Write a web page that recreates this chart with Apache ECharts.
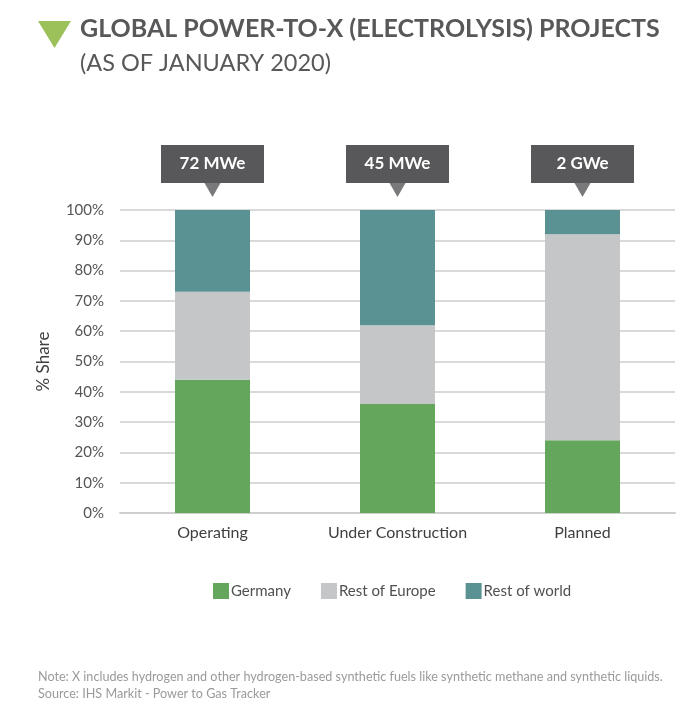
<!DOCTYPE html>
<html>
<head>
<meta charset="utf-8">
<script src="https://cdn.jsdelivr.net/npm/echarts@6/dist/echarts.min.js"></script>
<style>
html,body{margin:0;padding:0;background:#fff;}
#main{width:692px;height:714px;}
</style>
</head>
<body>
<div id="main"></div>
<script>
var categories = ['Operating', 'Under Construction', 'Planned'];
var capacity = ['72 MWe', '45 MWe', '2 GWe'];
var germany = [44, 36, 24];
var restOfEurope = [29, 26, 68];
var restOfWorld = [27, 38, 8];
var yTicks = [0, 10, 20, 30, 40, 50, 60, 70, 80, 90, 100];

var FONT = 'Lato';
var chart = echarts.init(document.getElementById('main'), null, {renderer: 'canvas'});

var option = {
  backgroundColor: '#ffffff',
  animation: false,
  textStyle: {fontFamily: FONT},
  graphic: [
    {type: 'polygon', shape: {points: [[38, 21], [71, 21], [54.5, 48]]}, style: {fill: '#9dc15a'}},
    {type: 'text', left: 80, top: 16, style: {text: 'GLOBAL POWER-TO-X (ELECTROLYSIS) PROJECTS', font: 'bold 25px ' + FONT, fill: '#58585a'}},
    {type: 'text', left: 80, top: 51, style: {text: '(AS OF JANUARY 2020)', font: '23.5px ' + FONT, fill: '#58585a'}},
    {type: 'text', left: 38, top: 670, style: {text: 'Note: X includes hydrogen and other hydrogen-based synthetic fuels like synthetic methane and synthetic liquids.', font: '12.6px ' + FONT, fill: '#9a9a9a'}},
    {type: 'text', left: 38, top: 687, style: {text: 'Source: IHS Markit - Power to Gas Tracker', font: '12.6px ' + FONT, fill: '#9a9a9a'}}
  ],
  legend: {
    left: 208,
    top: 578,
    icon: 'rect',
    itemWidth: 16,
    itemHeight: 16,
    itemGap: 30,
    data: ['Germany', 'Rest of Europe', 'Rest of world'],
    textStyle: {fontSize: 15, color: '#505050', fontFamily: FONT, padding: [0, 0, 0, -3]}
  },
  grid: {left: 120, right: 17, top: 210, bottom: 201},
  xAxis: {
    type: 'category',
    data: categories,
    axisTick: {show: false},
    axisLine: {lineStyle: {color: '#cfcfcf', width: 2}},
    axisLabel: {fontSize: 16, color: '#404040', margin: 12, fontFamily: FONT}
  },
  yAxis: {
    type: 'value',
    min: 0,
    max: 100,
    interval: 10,
    name: '% Share',
    nameLocation: 'middle',
    nameRotate: 90,
    nameGap: 68,
    nameTextStyle: {fontSize: 17, color: '#404040', fontFamily: FONT},
    axisLabel: {
      fontSize: 15, color: '#555555', margin: 16, fontFamily: FONT,
      formatter: function (v) { return yTicks.indexOf(v) >= 0 ? v + '%' : ''; }
    },
    splitLine: {lineStyle: {color: '#d9d9d9', width: 2}},
    axisLine: {show: false},
    axisTick: {show: false}
  },
  series: [
    {name: 'Germany', type: 'bar', stack: 'share', barWidth: 75, data: germany,
      itemStyle: {color: '#64a65c'}},
    {name: 'Rest of Europe', type: 'bar', stack: 'share', barWidth: 75, data: restOfEurope,
      itemStyle: {color: '#c5c6c8'}},
    {name: 'Rest of world', type: 'bar', stack: 'share', barWidth: 75, data: restOfWorld,
      itemStyle: {color: '#5a9294'},
      label: {
        show: true, position: 'top', distance: 27,
        formatter: function (p) { return capacity[p.dataIndex]; },
        backgroundColor: '#58585a', color: '#ffffff', fontSize: 17, fontWeight: 'bold',
        fontFamily: FONT, width: 103, height: 38, lineHeight: 38, align: 'center', padding: 0
      }},
    {name: 'pointer', type: 'scatter', data: categories.map(function () { return 100; }),
      symbol: 'triangle', symbolRotate: 180, symbolSize: [16, 14], symbolOffset: [0, -20],
      itemStyle: {color: '#58585a'}, silent: true, z: 5}
  ]
};
chart.setOption(option);
</script>
</body>
</html>
